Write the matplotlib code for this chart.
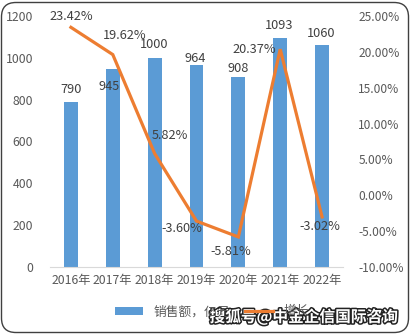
import matplotlib
matplotlib.use("Agg")
import matplotlib.pyplot as plt
import matplotlib.patheffects as pe
from matplotlib.patches import FancyBboxPatch
from matplotlib.lines import Line2D
from matplotlib.patches import Patch

plt.rcParams['font.family'] = ['Noto Sans CJK SC', 'DejaVu Sans']

years = ['2016年', '2017年', '2018年', '2019年', '2020年', '2021年', '2022年']
sales = [790, 945, 1000, 964, 908, 1093, 1060]
growth = [23.42, 19.62, 5.82, -3.60, -5.81, 20.37, -3.02]
left_ticks = [0, 200, 400, 600, 800, 1000, 1200]
right_ticks = [-10, -5, 0, 5, 10, 15, 20, 25]

BAR = '#5B9BD5'
LINE = '#ED7D31'
TXT = '#595959'

fig = plt.figure(figsize=(4.11, 3.34), dpi=100)
ax = fig.add_axes([50 / 411, 1 - 267 / 334, 293 / 411, 251 / 334])
ax2 = ax.twinx()

x = list(range(len(years)))
ax.bar(x, sales, width=0.33, color=BAR, zorder=2)
ax.set_xlim(-0.5, 6.5)
ax.set_ylim(0, 1200)
ax.set_yticks(left_ticks)
ax.set_xticks(x)
ax.set_xticklabels(years)
ax.tick_params(axis='y', length=0, pad=12, labelsize=8.8, labelcolor=TXT)
ax.tick_params(axis='x', length=0, pad=5, labelsize=8.8, labelcolor=TXT)
for s in ['top', 'left', 'right']:
    ax.spines[s].set_visible(False)
    ax2.spines[s].set_visible(False)
ax.spines['bottom'].set_color('#D9D9D9')
ax2.spines['bottom'].set_visible(False)

ax2.plot(x, growth, color=LINE, lw=2.3, zorder=3, solid_joinstyle='miter')
ax2.set_ylim(-10, 25)
ax2.set_yticks(right_ticks)
ax2.set_yticklabels([f'{t:.2f}%' for t in right_ticks])
ax2.tick_params(axis='y', length=0, pad=11, labelsize=8.6, labelcolor=TXT)

# value labels on the bars (pixel offsets from bar top)
bar_offsets = [(0, 12), (-4, -17), (-1, 13), (-1, 7), (0, 9), (-1, 13), (-1, 12)]
for xi, v, off in zip(x, sales, bar_offsets):
    ax.annotate(f'{v}', (xi, v), xytext=off, textcoords='offset pixels',
                ha='center', va='center', fontsize=9.2, color='#404040', zorder=5)

# value labels on the line
line_offsets = [(0, 11), (12, 19), (15, 18), (-15, -7), (-8, -15), (-26, 0), (-2, -10)]
for xi, v, off in zip(x, growth, line_offsets):
    ax2.annotate(f'{v:.2f}%', (xi, v), xytext=off, textcoords='offset pixels',
                 ha='center', va='center', fontsize=9.2, color='#404040', zorder=5)

handles = [Patch(facecolor=BAR), Line2D([0], [0], color=LINE, lw=2.3)]
leg = fig.legend(handles, ['销售额，亿元', '增长'], loc='center',
                 bbox_to_anchor=(212 / 411, 1 - 312 / 334), ncol=2, frameon=False,
                 fontsize=9.2, handlelength=2.2, handleheight=0.5, columnspacing=1.2,
                 labelcolor=TXT)

fig.text(304 / 411, 1 - 317 / 334, '搜狐号@中金企信国际咨询', ha='center', va='center',
         fontsize=11.3, fontweight='bold', color='white',
         path_effects=[pe.withStroke(linewidth=2.2, foreground='#222222')])

border = FancyBboxPatch((1.5 / 411, 1.5 / 334), 407 / 411, 330 / 334,
                        boxstyle='round,pad=0,rounding_size=0.035',
                        transform=fig.transFigure, fill=False,
                        edgecolor='#404040', lw=1.0, mutation_aspect=411 / 334)
fig.patches.append(border)

fig.savefig('out.png', dpi=100)
